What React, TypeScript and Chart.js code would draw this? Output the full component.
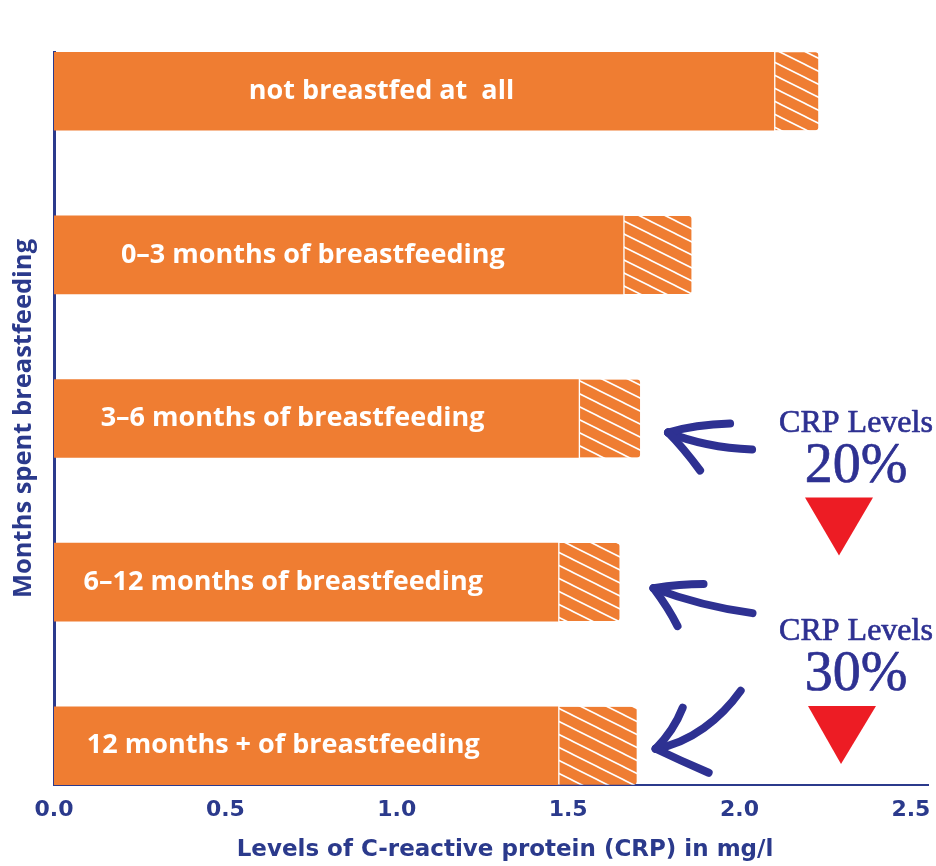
import React, { useEffect, useRef } from "react";
import { Chart, registerables } from "chart.js";

Chart.register(...registerables);

// ---- data ----
const categories = [
  "not breastfed at  all",
  "0–3 months of breastfeeding",
  "3–6 months of breastfeeding",
  "6–12 months of breastfeeding",
  "12 months + of breastfeeding",
];
const crpLevel = [2.1, 1.66, 1.53, 1.47, 1.47];
const crpUpper = [2.23, 1.86, 1.71, 1.65, 1.7];
const xTickValues = [0, 0.5, 1.0, 1.5, 2.0, 2.5];
const reductionLabels = ["20%", "30%"];
const xTitle = "Levels of C-reactive protein (CRP) in mg/l";
const yTitle = "Months spent breastfeeding";
const noteTitle = "CRP Levels";

const ORANGE = "#EF7D32";
const NAVY = "#2B3A8C";
const ARROW = "#2E3192";
const RED = "#ED1C24";
const LABEL_FONT = "'Open Sans', Lato, sans-serif";
const AXIS_FONT = "'DejaVu Sans', 'Open Sans', sans-serif";
const SERIF = "'Liberation Serif', 'DejaVu Serif', serif";

function makeHatch(): CanvasPattern | string {
  const c = document.createElement("canvas");
  const w = 26;
  const h = 13;
  c.width = w;
  c.height = h;
  const ctx = c.getContext("2d");
  if (!ctx) return ORANGE;
  ctx.fillStyle = ORANGE;
  ctx.fillRect(0, 0, w, h);
  ctx.strokeStyle = "#ffffff";
  ctx.lineWidth = 1.6;
  for (const oy of [-h, 0, h]) {
    ctx.beginPath();
    ctx.moveTo(-2, oy - 1);
    ctx.lineTo(w + 2, oy + h + 1);
    ctx.stroke();
  }
  const p = ctx.createPattern(c, "repeat");
  return p || ORANGE;
}

// arrows: bar index, offset from bar end / bar centre, hand-drawn stroke shapes
type Pt = [number, number];
const arrowShapes: { bar: number; dx: number; dy: number; paths: Pt[][] }[] = [
  {
    bar: 2,
    dx: 28,
    dy: 14,
    paths: [
      [[84, 17], [37, 15], [0, 0]],
      [[0, 0], [27, -8], [62, -9]],
      [[0, 0], [15, 15], [32, 38]],
    ],
  },
  {
    bar: 3,
    dx: 34,
    dy: 6,
    paths: [
      [[99, 25], [47, 18], [0, 0]],
      [[0, 0], [27, -4], [50, -4]],
      [[0, 0], [15, 20], [24, 38]],
    ],
  },
  {
    bar: 4,
    dx: 19,
    dy: 3,
    paths: [
      [[0, 0], [35, -6], [65, -30], [85, -58]],
      [[0, 0], [18, -18], [27, -41]],
      [[0, 0], [25, 12], [53, 24]],
    ],
  },
];

const overlayPlugin = {
  id: "overlay",
  afterDatasetsDraw(chart: any) {
    const { ctx, scales, chartArea } = chart;
    const xs = scales.x;
    const ys = scales.y;
    ctx.save();
    // bar labels
    ctx.fillStyle = "#ffffff";
    ctx.font = `bold 27px ${LABEL_FONT}`;
    ctx.textAlign = "center";
    ctx.textBaseline = "middle";
    categories.forEach((lab, i) => {
      const x = xs.getPixelForValue(crpLevel[i] * 0.455);
      const y = ys.getPixelForValue(i);
      ctx.fillText(lab, x, y);
    });

    // arrows
    ctx.strokeStyle = ARROW;
    ctx.lineWidth = 8;
    ctx.lineCap = "round";
    ctx.lineJoin = "round";
    arrowShapes.forEach((a) => {
      const tx = xs.getPixelForValue(crpUpper[a.bar]) + a.dx;
      const ty = ys.getPixelForValue(a.bar) + a.dy;
      a.paths.forEach((p) => {
        ctx.beginPath();
        ctx.moveTo(tx + p[0][0], ty + p[0][1]);
        if (p.length === 3) {
          ctx.quadraticCurveTo(tx + p[1][0], ty + p[1][1], tx + p[2][0], ty + p[2][1]);
        } else {
          ctx.bezierCurveTo(
            tx + p[1][0], ty + p[1][1],
            tx + p[2][0], ty + p[2][1],
            tx + p[3][0], ty + p[3][1]
          );
        }
        ctx.stroke();
      });
    });

    // notes
    const anchors = [
      ys.getPixelForValue(2) + 13,
      (ys.getPixelForValue(3) + ys.getPixelForValue(4)) / 2 - 24,
    ];
    const cx = chartArea.right - 74;
    reductionLabels.forEach((txt, k) => {
      const base = anchors[k];
      ctx.fillStyle = ARROW;
      ctx.strokeStyle = ARROW;
      ctx.lineWidth = 0.7;
      ctx.textAlign = "center";
      ctx.textBaseline = "alphabetic";
      ctx.font = `32px ${SERIF}`;
      ctx.fillText(noteTitle, cx + 2, base);
      ctx.strokeText(noteTitle, cx + 2, base);
      ctx.font = `56px ${SERIF}`;
      ctx.fillText(txt, cx + 2, base + 50);
      ctx.strokeText(txt, cx + 2, base + 50);
      ctx.fillStyle = RED;
      ctx.beginPath();
      ctx.moveTo(cx - 49 + (k ? 3 : 0), base + 66);
      ctx.lineTo(cx + 19 + (k ? 3 : 0), base + 66);
      ctx.lineTo(cx - 15 + (k ? 2 : 0), base + 124);
      ctx.closePath();
      ctx.fill();
    });

    // axis titles
    ctx.fillStyle = NAVY;
    ctx.font = `bold 23px ${AXIS_FONT}`;
    ctx.textAlign = "center";
    ctx.textBaseline = "alphabetic";
    ctx.fillText(xTitle, (chartArea.left + chartArea.right) / 2 + 14, chart.height - 10);
    ctx.save();
    ctx.translate(31, (chartArea.top + chartArea.bottom) / 2);
    ctx.rotate(-Math.PI / 2);
    ctx.font = `bold 25.5px ${LABEL_FONT}`;
    ctx.fillText(yTitle, 0, 0);
    ctx.restore();
    ctx.restore();
  },
};

export default function App() {
  const ref = useRef<HTMLCanvasElement | null>(null);
  useEffect(() => {
    if (!ref.current) return;
    const hatch = makeHatch();
    const chart = new Chart(ref.current, {
      type: "bar",
      data: {
        datasets: [
          {
            label: "CRP level",
            data: crpLevel.map((v, i) => ({ x: v, y: i })),
            backgroundColor: ORANGE,
            borderWidth: 0,
            barThickness: 78,
          },
          {
            label: "Range",
            data: crpUpper.map((v, i) => ({ x: v - crpLevel[i], y: i })),
            backgroundColor: hatch as any,
            borderColor: "#ffffff",
            borderWidth: { left: 2, right: 0, top: 0, bottom: 0 } as any,
            borderSkipped: false,
            borderRadius: { topLeft: 0, bottomLeft: 0, topRight: 3, bottomRight: 3 } as any,
            barThickness: 78,
          },
        ],
      },
      options: {
        indexAxis: "y",
        responsive: false,
        animation: false,
        layout: { padding: { top: 52, right: 8, left: 0, bottom: 0 } },
        plugins: {
          legend: { display: false },
          tooltip: { enabled: false },
        },
        scales: {
          x: {
            type: "linear",
            stacked: true,
            min: 0,
            max: 2.55,
            z: 1,
            afterFit: (s: any) => {
              s.height = 81;
              s.paddingLeft = 0;
              s.paddingRight = 0;
            },
            afterBuildTicks: (s: any) => {
              s.ticks = xTickValues.map((v) => ({ value: v }));
            },
            ticks: {
              stepSize: 0.5,
              includeBounds: false,
              padding: 12,
              color: NAVY,
              font: { family: AXIS_FONT, size: 22, weight: "bold" },
              callback: (v: any) => Number(v).toFixed(1),
              maxRotation: 0,
            },
            grid: { display: false, drawTicks: false },
            border: { display: true, color: NAVY, width: 2 },
          },
          y: {
            type: "linear",
            stacked: true,
            reverse: true,
            offset: false,
            min: -0.24,
            max: 4.24,
            z: 1,
            afterFit: (s: any) => {
              s.width = 54;
              s.paddingTop = 0;
              s.paddingBottom = 0;
            },
            ticks: { display: false },
            grid: { display: false, drawTicks: false, offset: false },
            border: { display: true, color: NAVY, width: 3 },
          },
        },
      } as any,
      plugins: [overlayPlugin],
    });
    return () => chart.destroy();
  }, []);
  return (
    <div style={{ position: "absolute", left: 0, top: 0, width: 936, height: 866, background: "#fff" }}>
      <canvas ref={ref} width={936} height={866} style={{ width: 936, height: 866, display: "block" }} />
    </div>
  );
}
